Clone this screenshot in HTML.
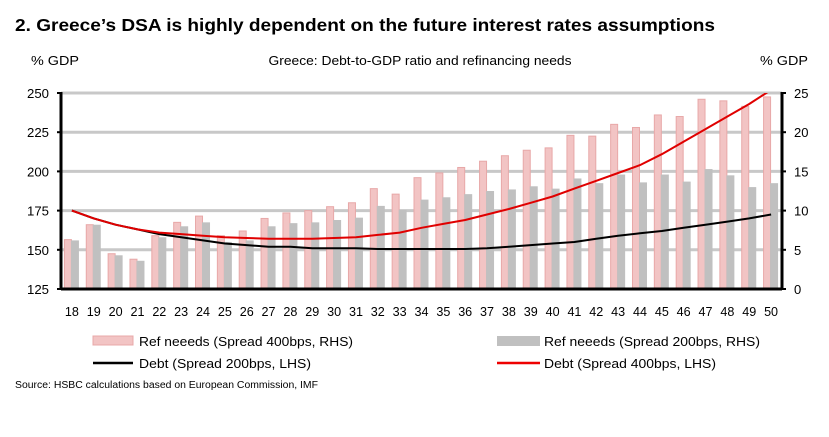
<!DOCTYPE html>
<html><head><meta charset="utf-8"><style>
body{margin:0;background:#fff;}
svg{display:block;font-family:"Liberation Sans",Arial,sans-serif;}
.n{font-size:13px;fill:#000;}
</style></head><body>
<svg id="c" width="829" height="437" viewBox="0 0 829 437">
<text x="15" y="31" font-size="17.5" font-weight="bold" textLength="700" lengthAdjust="spacingAndGlyphs">2. Greece’s DSA is highly dependent on the future interest rates assumptions</text>
<text x="31" y="65" class="n" textLength="48" lengthAdjust="spacingAndGlyphs">% GDP</text>
<text x="420" y="65" class="n" text-anchor="middle" textLength="303" lengthAdjust="spacingAndGlyphs">Greece: Debt-to-GDP ratio and refinancing needs</text>
<text x="760" y="65" class="n" textLength="48" lengthAdjust="spacingAndGlyphs">% GDP</text>
<g id="grid"></g><g id="bars"></g><g id="lines"></g><g id="axes"></g>
<g>
<rect x="93" y="336" width="40" height="9" fill="#f2c4c4" stroke="#e8a8a8"/>
<text x="139" y="346" class="n" textLength="214" lengthAdjust="spacingAndGlyphs">Ref neeeds (Spread 400bps, RHS)</text>
<rect x="497" y="336" width="43" height="10" fill="#c0c0c0"/>
<text x="544" y="346" class="n" textLength="216" lengthAdjust="spacingAndGlyphs">Ref neeeds (Spread 200bps, RHS)</text>
<line x1="93" y1="363" x2="133" y2="363" stroke="#000" stroke-width="2.5"/>
<text x="139" y="368" class="n" textLength="172" lengthAdjust="spacingAndGlyphs">Debt (Spread 200bps, LHS)</text>
<line x1="497" y1="363" x2="540" y2="363" stroke="#e00" stroke-width="2.5"/>
<text x="544" y="368" class="n" textLength="172" lengthAdjust="spacingAndGlyphs">Debt (Spread 400bps, LHS)</text>
</g>
<text x="15" y="388" font-size="10" textLength="303" lengthAdjust="spacingAndGlyphs">Source: HSBC calculations based on European Commission, IMF</text>
</svg>
<script>
const categories=[18,19,20,21,22,23,24,25,26,27,28,29,30,31,32,33,34,35,36,37,38,39,40,41,42,43,44,45,46,47,48,49,50];
const ref400=[6.3,8.2,4.5,3.8,6.8,8.5,9.3,6.8,7.4,9.0,9.7,10.0,10.5,11.0,12.8,12.1,14.2,14.8,15.5,16.3,17.0,17.7,18.0,19.6,19.5,21.0,20.6,22.2,22.0,24.2,24.0,23.3,24.5];
const ref200=[6.2,8.2,4.3,3.6,6.6,8.0,8.5,6.0,6.2,8.0,8.4,8.5,8.8,9.1,10.6,10.1,11.4,11.7,12.1,12.5,12.7,13.1,12.8,14.1,13.5,14.6,13.6,14.6,13.7,15.3,14.5,13.0,13.5];
const debt200=[175,170,166,163,160,158,156,154,153,152,152,151,151,151,150.5,150.5,150.5,150.5,150.5,151,152,153,154,155,157,159,160.5,162,164,166,168,170,172.5];
const debt400=[175,170,166,163,161,160,159,158,157.5,157,157,157,157.5,158,159.5,161,164,166.5,169,172.5,176,180,184,189,194,199,204,211,219,227,235,243,252];
const leftTicks=[125,150,175,200,225,250];
const rightTicks=[0,5,10,15,20,25];
const NS="http://www.w3.org/2000/svg";
const X0=61,X1=782,Y0=289,Y1=93;
const band=(X1-X0)/categories.length;
const xc=i=>X0+band*(i+0.5);
const yL=v=>Y0-(v-125)/125*(Y0-Y1);
const yR=v=>Y0-v/25*(Y0-Y1);
function mk(t,a,p){const e=document.createElementNS(NS,t);for(const k in a)e.setAttribute(k,a[k]);p.appendChild(e);return e;}
const g=document.getElementById('grid'),b=document.getElementById('bars'),l=document.getElementById('lines'),ax=document.getElementById('axes');
const defs=mk('clipPath',{id:'clip'},document.getElementById('c'));mk('rect',{x:X0,y:Y1,width:X1-X0,height:Y0-Y1},defs);
leftTicks.forEach((v,i)=>{
 if(i>0){const gl=mk('line',{x1:X0,x2:X1,y1:yL(v),y2:yL(v),stroke:'#c8c8c8','stroke-width':3},g);
 
 }
 const t=mk('text',{x:X0-12,y:yL(v)+5,'text-anchor':'end',class:'n',textLength:22,lengthAdjust:'spacingAndGlyphs'},ax);t.textContent=v;
 
 
 mk('line',{x1:X0-4,x2:X0,y1:yL(v),y2:yL(v),stroke:'#000','stroke-width':2},ax);
});
rightTicks.forEach(v=>{
 const t=mk('text',{x:X1+12,y:yR(v)+5,class:'n'},ax);t.textContent=v;
 
 
 mk('line',{x1:X1,x2:X1+4,y1:yR(v),y2:yR(v),stroke:'#000','stroke-width':2},ax);
});
categories.forEach((c,i)=>{
 const x=xc(i);
 const r1=mk('rect',{x:x-7.5,y:yR(ref400[i]),width:7,height:Y0-yR(ref400[i]),fill:'#f2c4c4',stroke:'#e8a8a8','stroke-width':1},b);
 
 
 const r2=mk('rect',{x:x-1,y:yR(ref200[i]),width:8,height:Y0-yR(ref200[i]),fill:'#c0c0c0'},b);
 
 
 const t=mk('text',{x:x,y:316,'text-anchor':'middle',class:'n',textLength:14,lengthAdjust:'spacingAndGlyphs'},ax);t.textContent=c;
 
 
});
function line(arr,col,name){
 const p=mk('path',{d:arr.map((v,i)=>(i?'L':'M')+xc(i).toFixed(1)+','+yL(v).toFixed(1)).join(''),fill:'none',stroke:col,'stroke-width':2,'stroke-linejoin':'round','clip-path':'url(#clip)'},l);
 
 
}
line(debt200,'#000','line-debt-200');
line(debt400,'#e00000','line-debt-400');
const a1=mk('line',{x1:X0,x2:X0,y1:Y1-1,y2:Y0+1,stroke:'#000','stroke-width':3},ax);


const a2=mk('line',{x1:X1,x2:X1,y1:Y1-1,y2:Y0+1,stroke:'#000','stroke-width':3},ax);


const a3=mk('line',{x1:X0,x2:X1,y1:Y0,y2:Y0,stroke:'#000','stroke-width':3},ax);


</script>
</body></html>
